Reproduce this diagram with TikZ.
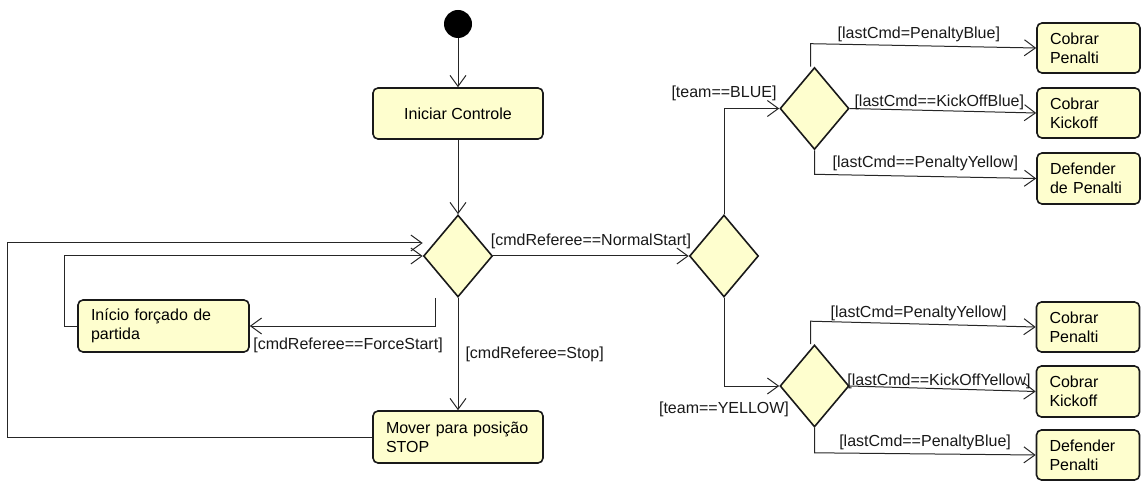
\documentclass[tikz,border=0pt]{standalone}
\usepackage{fontspec}
\setmainfont{Liberation Sans}
\usetikzlibrary{arrows.meta,shapes.geometric}
\definecolor{boxfill}{HTML}{FEFECE}
\begin{document}
\begin{tikzpicture}[x=1pt,y=-1pt,
  font=\fontsize{16}{19}\selectfont,
  box/.style={draw=black!90, line width=1.6pt, rounded corners=5pt, fill=boxfill, inner sep=0pt},
  lbox/.style={box, align=left, inner xsep=13pt, text width=#1},
  dec/.style={diamond, draw=black!90, line width=1.6pt, fill=boxfill, minimum width=69pt, minimum height=82pt, inner sep=0pt},
  arr/.style={draw=black!85, line width=1pt, -{Straight Barb[length=11pt,width=16pt,line width=1pt]}},
  lbl/.style={inner sep=3pt, text=black!90}
]
\useasboundingbox (0,0) rectangle (1141,481);

% nodes
\node[circle, fill=black, minimum size=28pt, inner sep=0pt] (start) at (458,24) {};
\node[box, minimum width=170pt, minimum height=51pt] (init) at (458,113.5) {Iniciar Controle};
\node[dec] (d1) at (458,256) {};
\node[lbox=145pt, minimum height=52pt] (force) at (163.5,326) {Início forçado de\\partida};
\node[lbox=144pt, minimum height=52pt] (mover) at (458,437) {Mover para posição\\STOP};
\node[dec] (d2) at (724,256) {};
\node[dec] (d3) at (814.5,108.5) {};
\node[dec] (d4) at (814.5,386) {};
\node[lbox=77pt, minimum height=50pt] (cp1) at (1088.5,48) {Cobrar\\Penalti};
\node[lbox=77pt, minimum height=50pt] (ck1) at (1088.5,113) {Cobrar\\Kickoff};
\node[lbox=77pt, minimum height=51pt] (df1) at (1088.5,178.5) {Defender\\de Penalti};
\node[lbox=77pt, minimum height=50pt] (cp2) at (1088,327) {Cobrar\\Penalti};
\node[lbox=77pt, minimum height=51pt] (ck2) at (1088,391.5) {Cobrar\\Kickoff};
\node[lbox=77pt, minimum height=50pt] (df2) at (1088,455) {Defender\\Penalti};

% connectors
\draw[arr] (start) -- (init);
\draw[arr] (init) -- (d1);
\draw[arr] (d1) -- node[lbl, above, yshift=4pt]{[cmdReferee==NormalStart]} (d2);
\draw[arr] (d1.south) ++(-23,0) |- node[lbl, pos=1, anchor=north west, yshift=-8pt]{[cmdReferee==ForceStart]} (force.east);
\draw[arr] (d1) -- node[lbl, right, xshift=4pt]{[cmdReferee=Stop]} (mover);
\draw[arr] (force.west) -- ++(-13,0) |- (d1.west);
\draw[arr] (mover.west) -- ++(-365,0) |- ([yshift=13pt]d1.west);
\draw[arr] (d2.north) |- node[lbl, pos=0.5, above, yshift=4pt]{[team==BLUE]} (d3.west);
\draw[arr] (d2.south) |- node[lbl, pos=0.5, below, yshift=-12pt]{[team==YELLOW]} (d4.west);

\draw[arr] ([xshift=-4pt]d3.north) -- ++(0,-23) -- node[lbl, above, pos=0.48]{[lastCmd=PenaltyBlue]} (cp1.west);
\draw[arr] (d3.east) -- node[lbl, above, pos=0.48, yshift=-3pt]{[lastCmd==KickOffBlue]} (ck1.west);
\draw[arr] (d3.south) -- ++(0,24) -- node[lbl, above, pos=0.5, yshift=2pt]{[lastCmd==PenaltyYellow]} (df1.west);

\draw[arr] ([xshift=-4pt]d4.north) -- ++(0,-23) -- node[lbl, above, pos=0.48]{[lastCmd=PenaltyYellow]} (cp2.west);
\draw[arr] (d4.east) -- node[lbl, above, pos=0.48, yshift=-4pt]{[lastCmd==KickOffYellow]} (ck2.west);
\draw[arr] (d4.south) -- ++(0,25) -- node[lbl, above, pos=0.5, yshift=1pt]{[lastCmd==PenaltyBlue]} (df2.west);
\end{tikzpicture}
\end{document}
